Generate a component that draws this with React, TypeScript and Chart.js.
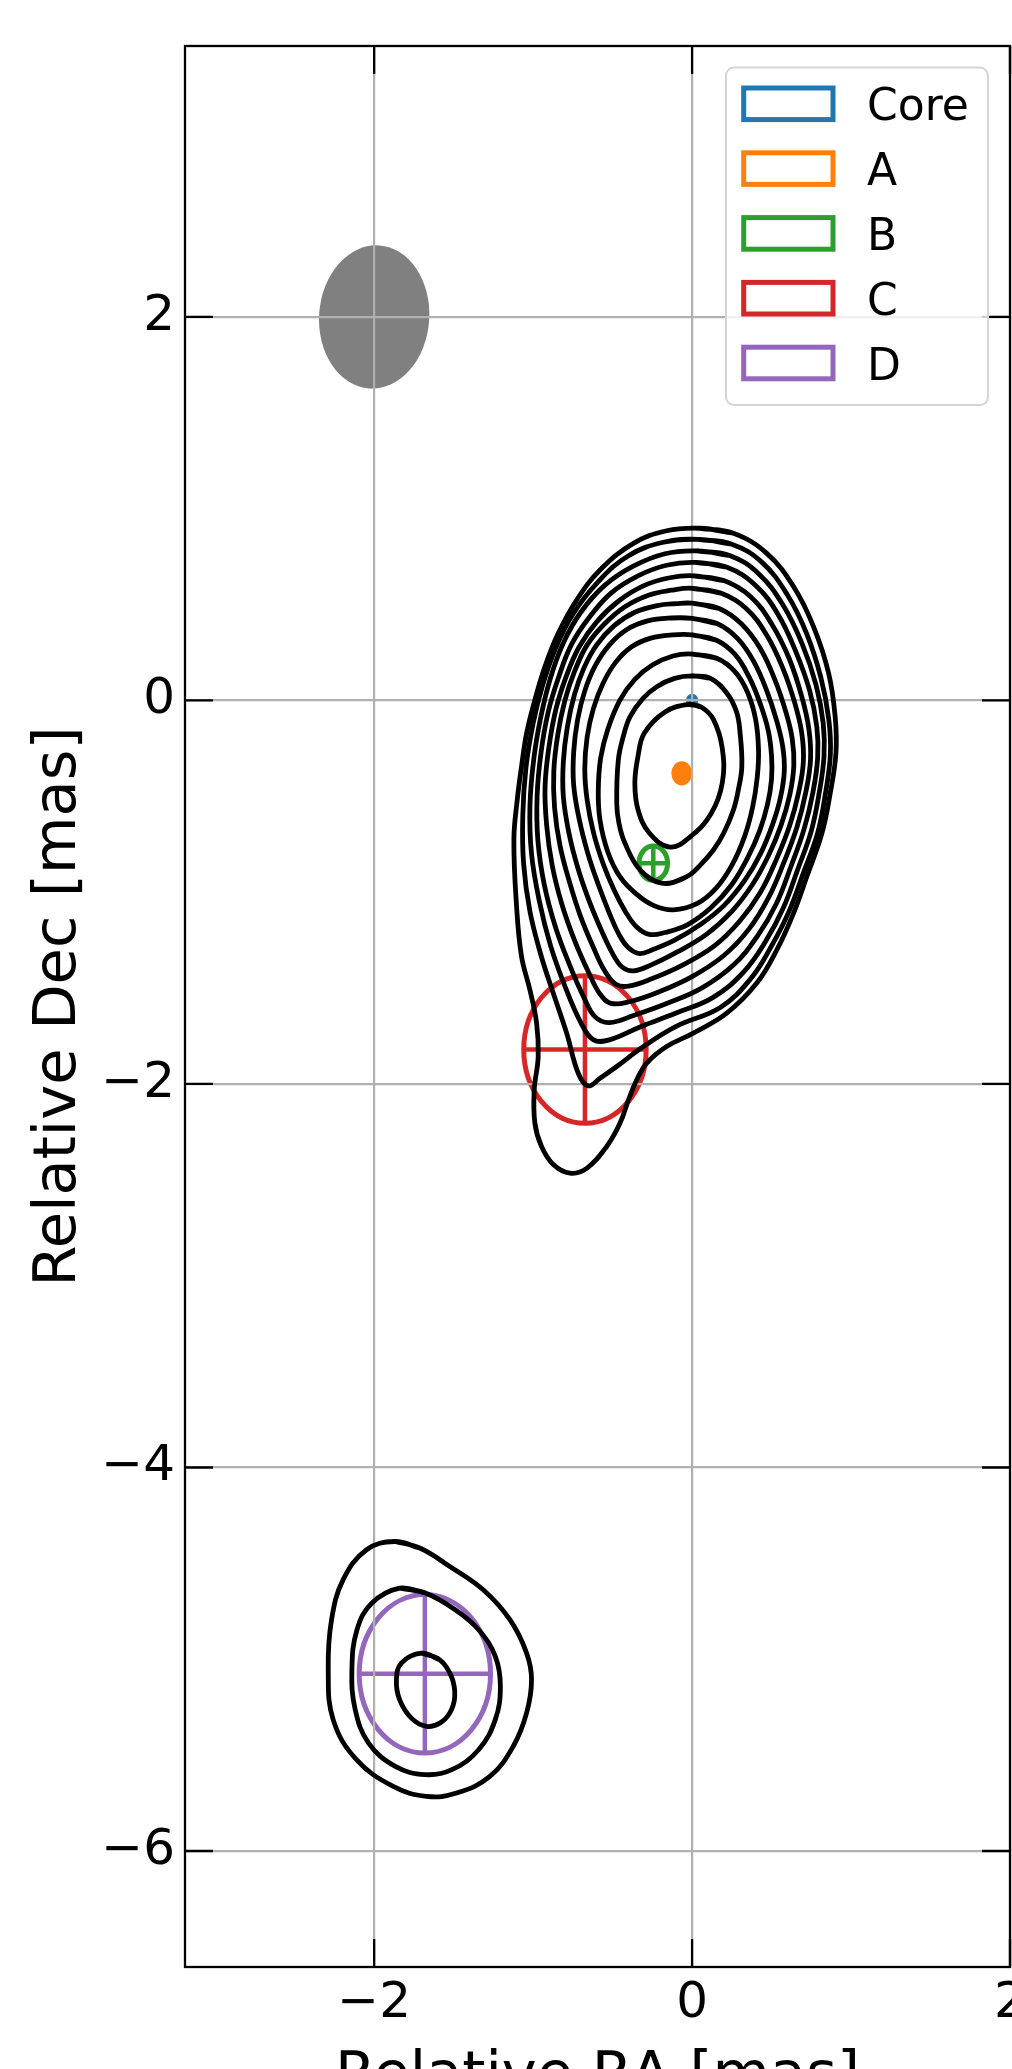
import React, { useEffect, useRef } from 'react';
import { Chart, registerables } from 'chart.js';

Chart.register(...registerables);

// ---------- axes ----------
const xTicks = [-2, 0, 2];
const yTicks = [2, 0, -2, -4, -6];
const xMin = -3.19;
const xMax = 2.0;
const yMin = -6.605;
const yMax = 3.413;
const xTitle = 'Relative RA [mas]';
const yTitle = 'Relative Dec [mas]';

// ---------- model-fit components ----------
const compNames = ['Core', 'A', 'B', 'C', 'D'];
const compColors = ['#1f77b4', '#ff7f0e', '#2ca02c', '#d62728', '#9467bd'];
const compX = [0.0, -0.065, -0.244, -0.674, -1.681];
const compY = [0.0, -0.38, -0.849, -1.82, -5.076];
const compSize = [0.045, 0.1, 0.18, 0.77, 0.826];

// ---------- restoring beam ----------
const beamX = -2.0;
const beamY = 2.0;
const beamWidth = 0.693;
const beamHeight = 0.748;
const beamTiltDeg = 4;

// ---------- contours (RA, Dec) ----------
const contour01 = [[0.05,0.898],[0.26,0.872],[0.47,0.767],[0.638,0.594],[0.764,0.385],[0.859,0.142],[0.90,-0.084],[0.905,-0.275],[0.869,-0.484],[0.817,-0.692],[0.722,-0.918],[0.638,-1.11],[0.533,-1.301],[0.407,-1.474],[0.218,-1.631],[0.008,-1.735],[-0.16,-1.805],[-0.285,-1.891],[-0.348,-1.978],[-0.40,-2.083],[-0.453,-2.204],[-0.537,-2.326],[-0.663,-2.44],[-0.768,-2.465],[-0.873,-2.42],[-0.947,-2.326],[-0.989,-2.204],[-0.993,-2.03],[-0.968,-1.857],[-0.978,-1.683],[-1.02,-1.51],[-1.073,-1.335],[-1.104,-1.075],[-1.121,-0.727],[-1.10,-0.519],[-1.073,-0.345],[-1.041,-0.171],[-0.989,0.003],[-0.926,0.176],[-0.842,0.35],[-0.726,0.524],[-0.579,0.68],[-0.369,0.819],[-0.16,0.885]];
const contour02 = [[0.04,0.84],[0.25,0.815],[0.44,0.72],[0.60,0.55],[0.72,0.35],[0.81,0.12],[0.86,-0.10],[0.87,-0.28],[0.84,-0.48],[0.79,-0.69],[0.70,-0.90],[0.61,-1.10],[0.50,-1.28],[0.37,-1.45],[0.18,-1.60],[-0.10,-1.70],[-0.306,-1.805],[-0.474,-1.909],[-0.579,-1.97],[-0.654,-2.01],[-0.716,-1.944],[-0.789,-1.735],[-0.873,-1.527],[-0.95,-1.33],[-1.02,-1.10],[-1.06,-0.85],[-1.065,-0.6],[-1.045,-0.35],[-1.00,-0.12],[-0.94,0.08],[-0.86,0.27],[-0.75,0.45],[-0.59,0.62],[-0.40,0.755],[-0.18,0.825]];
const contour03 = [[0.03,0.78],[0.24,0.755],[0.42,0.66],[0.57,0.50],[0.69,0.30],[0.78,0.08],[0.825,-0.12],[0.83,-0.29],[0.80,-0.48],[0.75,-0.68],[0.665,-0.88],[0.575,-1.08],[0.46,-1.26],[0.32,-1.42],[0.13,-1.55],[-0.10,-1.63],[-0.32,-1.70],[-0.52,-1.77],[-0.62,-1.77],[-0.70,-1.68],[-0.80,-1.49],[-0.89,-1.28],[-0.96,-1.05],[-1.01,-0.80],[-1.02,-0.55],[-0.995,-0.30],[-0.95,-0.08],[-0.89,0.12],[-0.81,0.30],[-0.70,0.46],[-0.55,0.60],[-0.37,0.70],[-0.17,0.765]];
const contour04 = [[0.02,0.72],[0.22,0.695],[0.40,0.60],[0.54,0.45],[0.65,0.26],[0.74,0.05],[0.785,-0.14],[0.79,-0.30],[0.76,-0.48],[0.705,-0.67],[0.62,-0.87],[0.53,-1.06],[0.41,-1.23],[0.26,-1.38],[0.06,-1.50],[-0.16,-1.58],[-0.36,-1.64],[-0.52,-1.68],[-0.61,-1.65],[-0.68,-1.55],[-0.77,-1.38],[-0.86,-1.18],[-0.93,-0.96],[-0.97,-0.73],[-0.975,-0.50],[-0.95,-0.27],[-0.905,-0.06],[-0.84,0.12],[-0.76,0.29],[-0.65,0.43],[-0.51,0.56],[-0.34,0.65],[-0.16,0.705]];
const contour05 = [[0.01,0.65],[0.20,0.625],[0.37,0.54],[0.50,0.40],[0.61,0.22],[0.69,0.02],[0.735,-0.15],[0.745,-0.31],[0.715,-0.48],[0.66,-0.66],[0.575,-0.85],[0.48,-1.03],[0.36,-1.19],[0.20,-1.33],[0.0,-1.44],[-0.21,-1.52],[-0.39,-1.57],[-0.51,-1.58],[-0.58,-1.53],[-0.65,-1.42],[-0.74,-1.25],[-0.82,-1.06],[-0.88,-0.86],[-0.915,-0.65],[-0.925,-0.45],[-0.90,-0.24],[-0.855,-0.04],[-0.79,0.13],[-0.71,0.28],[-0.60,0.41],[-0.46,0.52],[-0.30,0.60],[-0.14,0.64]];
const contour06 = [[0.0,0.585],[0.18,0.56],[0.34,0.48],[0.47,0.34],[0.57,0.17],[0.645,-0.01],[0.69,-0.17],[0.70,-0.32],[0.67,-0.48],[0.615,-0.65],[0.53,-0.83],[0.43,-1.0],[0.30,-1.15],[0.14,-1.28],[-0.06,-1.38],[-0.25,-1.45],[-0.40,-1.49],[-0.48,-1.48],[-0.55,-1.41],[-0.62,-1.29],[-0.70,-1.13],[-0.77,-0.95],[-0.83,-0.76],[-0.865,-0.56],[-0.87,-0.37],[-0.845,-0.18],[-0.80,0.0],[-0.74,0.15],[-0.66,0.29],[-0.55,0.40],[-0.42,0.49],[-0.27,0.55],[-0.13,0.575]];
const contour07 = [[0.0,0.507],[0.17,0.48],[0.31,0.40],[0.43,0.27],[0.52,0.11],[0.59,-0.06],[0.63,-0.20],[0.64,-0.34],[0.615,-0.49],[0.56,-0.65],[0.48,-0.81],[0.38,-0.96],[0.25,-1.10],[0.09,-1.22],[-0.09,-1.31],[-0.26,-1.38],[-0.37,-1.41],[-0.44,-1.39],[-0.50,-1.32],[-0.57,-1.20],[-0.65,-1.04],[-0.72,-0.87],[-0.775,-0.69],[-0.81,-0.50],[-0.81,-0.32],[-0.785,-0.14],[-0.74,0.03],[-0.68,0.17],[-0.60,0.29],[-0.49,0.39],[-0.36,0.46],[-0.22,0.495],[-0.10,0.505]];
const contour08 = [[0.0,0.428],[0.16,0.40],[0.29,0.32],[0.39,0.20],[0.47,0.05],[0.53,-0.10],[0.57,-0.24],[0.58,-0.37],[0.555,-0.51],[0.505,-0.65],[0.43,-0.80],[0.33,-0.94],[0.20,-1.07],[0.05,-1.17],[-0.11,-1.25],[-0.25,-1.30],[-0.33,-1.32],[-0.40,-1.29],[-0.46,-1.22],[-0.52,-1.11],[-0.59,-0.96],[-0.655,-0.80],[-0.71,-0.62],[-0.745,-0.44],[-0.745,-0.27],[-0.72,-0.10],[-0.675,0.05],[-0.61,0.18],[-0.52,0.29],[-0.41,0.37],[-0.28,0.415],[-0.13,0.43]];
const contour09 = [[0.0,0.342],[0.15,0.315],[0.27,0.24],[0.36,0.12],[0.43,-0.02],[0.48,-0.16],[0.50,-0.29],[0.50,-0.41],[0.475,-0.54],[0.425,-0.68],[0.35,-0.82],[0.25,-0.96],[0.12,-1.08],[-0.03,-1.17],[-0.17,-1.21],[-0.27,-1.22],[-0.35,-1.18],[-0.42,-1.10],[-0.49,-0.99],[-0.56,-0.85],[-0.62,-0.69],[-0.66,-0.52],[-0.675,-0.36],[-0.66,-0.19],[-0.62,-0.04],[-0.56,0.09],[-0.48,0.20],[-0.38,0.28],[-0.26,0.325],[-0.12,0.342]];
const contour10 = [[0.0,0.242],[0.155,0.22],[0.27,0.15],[0.35,0.04],[0.40,-0.10],[0.418,-0.258],[0.41,-0.40],[0.38,-0.56],[0.33,-0.71],[0.25,-0.86],[0.15,-0.98],[0.03,-1.06],[-0.118,-1.092],[-0.24,-1.07],[-0.35,-1.01],[-0.453,-0.92],[-0.53,-0.79],[-0.58,-0.62],[-0.59,-0.467],[-0.575,-0.30],[-0.53,-0.15],[-0.453,0.003],[-0.36,0.11],[-0.25,0.185],[-0.12,0.232]];
const contour11 = [[0.0,0.128],[0.113,0.116],[0.219,0.038],[0.28,-0.06],[0.302,-0.17],[0.313,-0.345],[0.29,-0.47],[0.26,-0.571],[0.20,-0.69],[0.134,-0.78],[0.05,-0.86],[-0.033,-0.919],[-0.191,-0.953],[-0.327,-0.884],[-0.422,-0.745],[-0.46,-0.64],[-0.474,-0.536],[-0.464,-0.31],[-0.43,-0.18],[-0.39,-0.084],[-0.31,0.01],[-0.222,0.072],[-0.11,0.115]];
const contour12 = [[-0.02,-0.02],[0.06,-0.035],[0.135,-0.10],[0.19,-0.25],[0.19,-0.43],[0.12,-0.59],[-0.01,-0.71],[-0.14,-0.765],[-0.27,-0.69],[-0.34,-0.57],[-0.36,-0.43],[-0.34,-0.29],[-0.30,-0.17],[-0.17,-0.06]];
const contourD1 = [[-1.87,-4.386],[-1.713,-4.42],[-1.524,-4.516],[-1.314,-4.638],[-1.146,-4.794],[-1.041,-4.968],[-1.01,-5.107],[-1.041,-5.28],[-1.125,-5.454],[-1.272,-5.611],[-1.482,-5.698],[-1.671,-5.715],[-1.88,-5.663],[-2.111,-5.524],[-2.258,-5.315],[-2.289,-5.055],[-2.268,-4.794],[-2.195,-4.585],[-2.048,-4.429]];
const contourD2 = [[-1.84,-4.629],[-1.678,-4.655],[-1.49,-4.742],[-1.343,-4.846],[-1.238,-4.985],[-1.206,-5.141],[-1.238,-5.315],[-1.343,-5.472],[-1.511,-5.576],[-1.678,-5.602],[-1.867,-5.559],[-2.035,-5.437],[-2.119,-5.263],[-2.14,-5.055],[-2.108,-4.846],[-2.014,-4.707]];
const contourD3 = [[-1.703,-4.968],[-1.587,-5.003],[-1.514,-5.09],[-1.493,-5.194],[-1.524,-5.28],[-1.587,-5.333],[-1.671,-5.35],[-1.766,-5.307],[-1.84,-5.211],[-1.86,-5.107],[-1.829,-5.02]];

const contours = [contour01, contour02, contour03, contour04, contour05, contour06, contour07, contour08, contour09, contour10, contour11, contour12, contourD1, contourD2, contourD3];

const FONT = "'DejaVu Sans', 'Liberation Sans', sans-serif";

function fmtTick(v: number): string {
  return v < 0 ? '\u2212' + String(Math.abs(v)) : String(v);
}

const underlayPlugin = {
  id: 'underlay',
  beforeDraw(chart: any) {
    const { ctx, chartArea: a, scales } = chart;
    const xs = scales.x;
    const ys = scales.y;
    ctx.save();
    ctx.fillStyle = '#ffffff';
    ctx.fillRect(0, 0, chart.width, chart.height);
    ctx.beginPath();
    ctx.rect(a.left, a.top, a.right - a.left, a.bottom - a.top);
    ctx.clip();
    // beam
    const bx = xs.getPixelForValue(beamX);
    const by = ys.getPixelForValue(beamY);
    const brx = Math.abs(xs.getPixelForValue(beamX + beamWidth / 2) - bx);
    const bry = Math.abs(ys.getPixelForValue(beamY + beamHeight / 2) - by);
    ctx.fillStyle = '#808080';
    ctx.beginPath();
    ctx.ellipse(bx, by, brx, bry, (beamTiltDeg * Math.PI) / 180, 0, Math.PI * 2);
    ctx.fill();
    // components: outline ellipse + cross through the centre
    const lw = 5;
    for (let i = 0; i < compNames.length; i++) {
      const cx = xs.getPixelForValue(compX[i]);
      const cy = ys.getPixelForValue(compY[i]);
      const x0 = xs.getPixelForValue(compX[i] - compSize[i] / 2);
      const x1 = xs.getPixelForValue(compX[i] + compSize[i] / 2);
      const y0 = ys.getPixelForValue(compY[i] - compSize[i] / 2);
      const y1 = ys.getPixelForValue(compY[i] + compSize[i] / 2);
      const rx = Math.abs(x1 - x0) / 2;
      const ry = Math.abs(y1 - y0) / 2;
      ctx.strokeStyle = compColors[i];
      ctx.fillStyle = compColors[i];
      ctx.lineWidth = lw;
      ctx.beginPath();
      ctx.ellipse(cx, cy, rx, ry, 0, 0, Math.PI * 2);
      // tiny components: the thick outline closes up into a solid blob
      if (Math.min(rx, ry) < 2.5 * lw) ctx.fill();
      ctx.stroke();
      ctx.lineWidth = 4.5;
      ctx.beginPath();
      ctx.moveTo(x0, cy);
      ctx.lineTo(x1, cy);
      ctx.moveTo(cx, y0);
      ctx.lineTo(cx, y1);
      ctx.stroke();
    }
    ctx.restore();
  },
};

const overlayPlugin = {
  id: 'overlay',
  afterDraw(chart: any) {
    const { ctx, chartArea: a, scales } = chart;
    const xs = scales.x;
    const ys = scales.y;
    ctx.save();
    // frame
    ctx.strokeStyle = '#000';
    ctx.lineWidth = 2.3;
    ctx.strokeRect(a.left, a.top, a.right - a.left, a.bottom - a.top);
    // inward ticks on all four sides
    const len = 28;
    ctx.beginPath();
    for (const v of xTicks) {
      const p = xs.getPixelForValue(v);
      ctx.moveTo(p, a.bottom);
      ctx.lineTo(p, a.bottom - len);
      ctx.moveTo(p, a.top);
      ctx.lineTo(p, a.top + len);
    }
    for (const v of yTicks) {
      const p = ys.getPixelForValue(v);
      ctx.moveTo(a.left, p);
      ctx.lineTo(a.left + len, p);
      ctx.moveTo(a.right, p);
      ctx.lineTo(a.right - len, p);
    }
    ctx.stroke();

    // legend
    const w = 262;
    const h = 337.5;
    const lx = a.right - 22 - w;
    const ly = a.top + 21.5;
    const r = 8;
    ctx.beginPath();
    ctx.moveTo(lx + r, ly);
    ctx.lineTo(lx + w - r, ly);
    ctx.arcTo(lx + w, ly, lx + w, ly + r, r);
    ctx.lineTo(lx + w, ly + h - r);
    ctx.arcTo(lx + w, ly + h, lx + w - r, ly + h, r);
    ctx.lineTo(lx + r, ly + h);
    ctx.arcTo(lx, ly + h, lx, ly + h - r, r);
    ctx.lineTo(lx, ly + r);
    ctx.arcTo(lx, ly, lx + r, ly, r);
    ctx.closePath();
    ctx.fillStyle = 'rgba(255,255,255,0.8)';
    ctx.fill();
    ctx.strokeStyle = '#d5d5d5';
    ctx.lineWidth = 2;
    ctx.stroke();
    ctx.font = '44px ' + FONT;
    ctx.textBaseline = 'alphabetic';
    ctx.textAlign = 'left';
    for (let i = 0; i < compNames.length; i++) {
      const cy = ly + 36.3 + i * 64.8;
      ctx.strokeStyle = compColors[i];
      ctx.lineWidth = 5;
      ctx.strokeRect(lx + 17.7, cy - 15.8, 89.3, 31.6);
      ctx.fillStyle = '#000';
      ctx.fillText(compNames[i], lx + 141, cy + 16.5);
    }
    ctx.restore();
  },
};

export default function App() {
  const ref = useRef<HTMLCanvasElement | null>(null);

  useEffect(() => {
    document.body.style.margin = '0';
    const canvas = ref.current;
    if (!canvas) return;
    Chart.defaults.font.family = FONT;

    const datasets = contours.map((c, i) => {
      const closed = [...c, c[0], c[1]];
      return {
        label: 'contour ' + (i + 1),
        data: closed.map(([x, y]) => ({ x, y })),
        showLine: true,
        borderColor: '#000000',
        backgroundColor: '#000000',
        borderWidth: 4.8,
        pointRadius: 0,
        pointHoverRadius: 0,
        tension: 0.4,
        fill: false,
      };
    });

    const chart = new Chart(canvas, {
      type: 'scatter',
      data: { datasets },
      options: {
        responsive: false,
        maintainAspectRatio: false,
        devicePixelRatio: 1,
        animation: false,
        events: [],
        layout: { padding: { top: 46, right: 2, left: 0, bottom: 0 } },
        plugins: {
          legend: { display: false },
          tooltip: { enabled: false },
        },
        scales: {
          x: {
            type: 'linear',
            min: xMin,
            max: xMax,
            afterBuildTicks: (s: any) => {
              s.ticks = xTicks.map((v) => ({ value: v }));
            },
            afterFit: (s: any) => {
              s.height = 102;
              s.paddingLeft = 0;
              s.paddingRight = 0;
            },
            ticks: {
              callback: (v: any) => fmtTick(Number(v)),
              font: { family: FONT, size: 50 },
              color: '#000',
              padding: 7,
              maxRotation: 0,
              autoSkip: false,
            },
            grid: { color: '#b0b0b0', lineWidth: 2.2, drawTicks: false },
            border: { display: false },
            title: {
              display: true,
              text: xTitle,
              color: '#000',
              font: { family: FONT, size: 59 },
              padding: { top: 0, bottom: -44 },
            },
          },
          y: {
            type: 'linear',
            min: yMin,
            max: yMax,
            afterBuildTicks: (s: any) => {
              s.ticks = yTicks.map((v) => ({ value: v }));
            },
            afterFit: (s: any) => {
              s.width = 185;
              s.paddingTop = 0;
              s.paddingBottom = 0;
            },
            ticks: {
              callback: (v: any) => fmtTick(Number(v)),
              font: { family: FONT, size: 50 },
              color: '#000',
              padding: 10,
              autoSkip: false,
            },
            grid: { color: '#b0b0b0', lineWidth: 2.2, drawTicks: false },
            border: { display: false },
            title: {
              display: true,
              text: yTitle,
              color: '#000',
              font: { family: FONT, size: 59 },
              padding: { top: 24, bottom: 0 },
            },
          },
        },
      },
      plugins: [underlayPlugin, overlayPlugin],
    });

    return () => {
      chart.destroy();
    };
  }, []);

  return (
    <canvas
      ref={ref}
      width={1012}
      height={2069}
      style={{ display: 'block', width: '1012px', height: '2069px' }}
    />
  );
}
